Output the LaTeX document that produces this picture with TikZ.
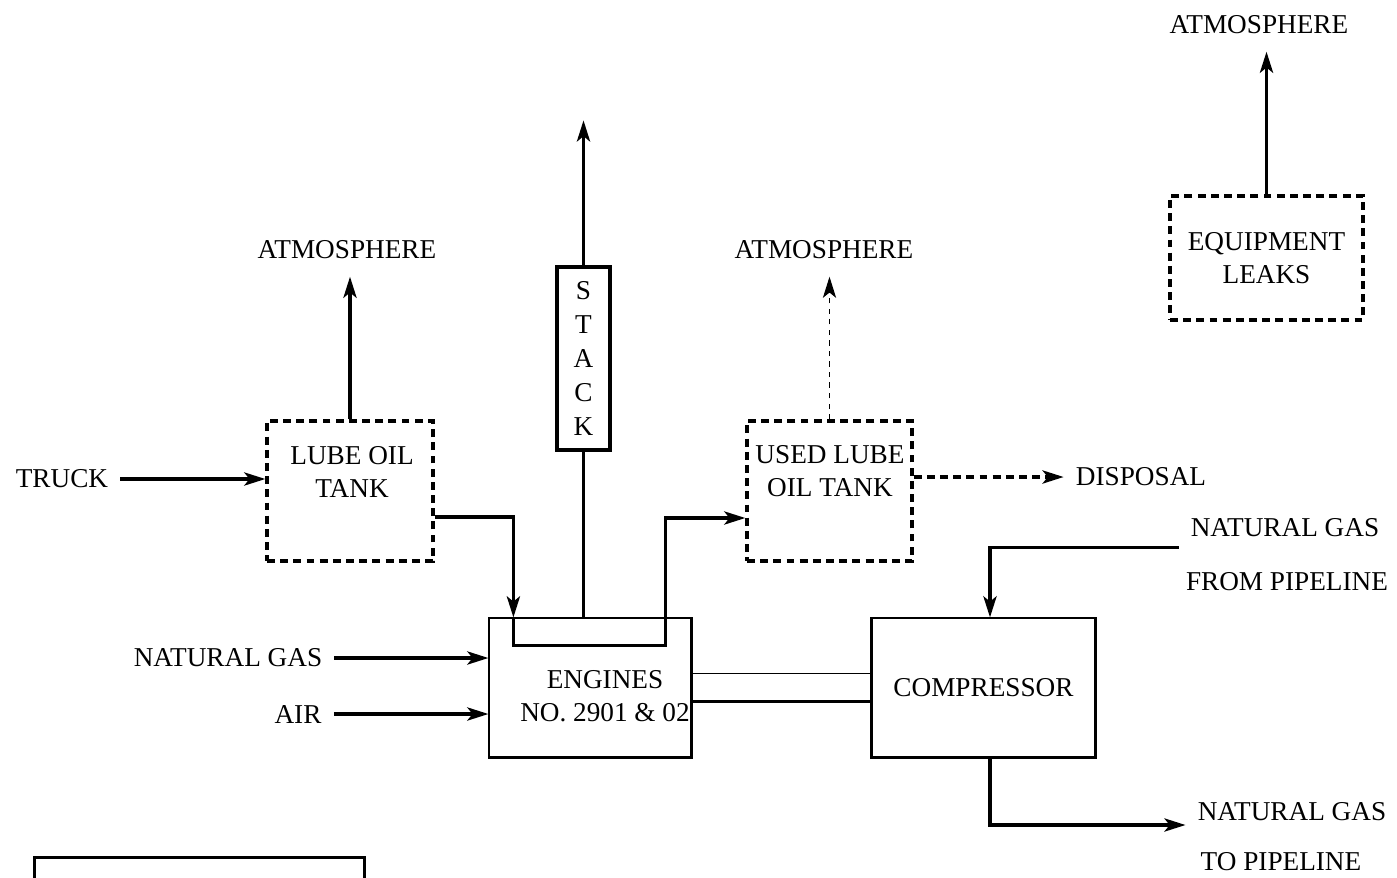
\documentclass[tikz,border=0pt]{standalone}
\usepackage{fontspec}
\setmainfont{Liberation Serif}
\usetikzlibrary{arrows,arrows.meta,positioning,shapes}

\newcommand{\flowfont}{\fontsize{15.5}{18.8}\selectfont}

\begin{document}
\begin{tikzpicture}[->,>={Stealth[length=12pt,width=7.5pt,inset=3pt]},x=0.02cm,y=-0.02cm,line width=1.9pt,
                    font=\flowfont,node distance=1cm,
                    tank/.style={draw,dash pattern=on 4.5pt off 3pt,line width=1.9pt},
                    vessel/.style={draw,line width=0.7pt},
                    lbl/.style={inner sep=2pt,outer xsep=5pt,outer ysep=8pt,align=center}]

        \useasboundingbox (0,0) rectangle (1397,877);

        % units
        \node[tank,minimum width=3.32cm,minimum height=2.8cm] (lube) at (350,491) {};
        \node[tank,minimum width=3.3cm,minimum height=2.8cm] (usedlube) at (829.5,491) {};
        \node[tank,minimum width=3.86cm,minimum height=2.48cm,align=center] (leaks) at (1266.5,258) {EQUIPMENT\\LEAKS};
        \node[draw,minimum width=1.06cm,minimum height=3.66cm,align=center,
              font=\fontsize{15.5}{19.3}\selectfont] (stack) at (583.5,358.5) {S\\T\\A\\C\\K};
        \node[vessel,minimum width=4.04cm,minimum height=2.78cm] (engine) at (590,687.5) {};
        \node[vessel,minimum width=4.46cm,minimum height=2.78cm] (comp) at (983.5,687.5) {COMPRESSOR};
        \node[draw,minimum width=6.6cm,minimum height=2cm,anchor=north west] (legend) at (33,856) {};

        \node[lbl] (lubetxt) at (352,472) {LUBE OIL\\TANK};
        \node[lbl] (usedtxt) at (830,471) {USED LUBE\\OIL TANK};
        \node[lbl] (enginetxt) at (605,696) {ENGINES\\NO. 2901 \& 02};

        % streams
        \node[lbl] (atmL) at (347,250) {ATMOSPHERE};
        \node[lbl] (atmM) at (824,250) {ATMOSPHERE};
        \node[lbl] (atmR) at (1259,25) {ATMOSPHERE};
        \node[lbl] (truck) at (62,479) {TRUCK};
        \node[lbl] (disposal) at (1141,477) {DISPOSAL};
        \node[lbl] (gasin) at (228,658) {NATURAL GAS};
        \node[lbl] (air) at (298,714) {AIR};
        \node[lbl] (gasfrom1) at (1285,528) {NATURAL GAS};
        \node[lbl] (gasfrom2) at (1287,582) {FROM PIPELINE};
        \node[lbl] (gasto1) at (1292,812) {NATURAL GAS};
        \node[lbl] (gasto2) at (1281,862) {TO PIPELINE};
        \coordinate[above=2.9cm of stack.north] (plume);

        % heavy edges
        \draw[-] (engine.north east) -- (engine.south east) -- (engine.south west);
        \draw[-] (comp.north west) -- (comp.south west) -- (comp.south east) -- (comp.north east);

        \draw (truck) -- (truck -| lube.west);
        \draw (lube.north) -- (lube.north |- atmL.south);
        \draw ([yshift=-5.2mm]lube.east) -| ([xshift=5mm]engine.north west);
        \draw ([xshift=5mm]engine.north west) -- ++(0,28)
              -| ([xshift=-5.2mm]engine.north east) |- ([yshift=-5.4mm]usedlube.west);
        \draw[-] (stack.south) -- (stack.south |- engine.north);
        \draw (stack.north) -- (plume);
        \draw[line width=0.7pt,dash pattern=on 3pt off 3pt] (usedlube.north) -- (usedlube.north |- atmM.south);
        \draw[dash pattern=on 4.5pt off 3pt] (usedlube.east |- disposal) -- (disposal);
        \draw (gasin) -- (gasin -| engine.west);
        \draw (air) -- (air -| engine.west);
        \draw[-,line width=0.7pt] ([yshift=2.8mm]engine.east) -- ([yshift=2.8mm]comp.west);
        \draw[-] ([yshift=-2.8mm]engine.east) -- ([yshift=-2.8mm]comp.west);
        \draw ([yshift=1.5mm]gasfrom1.south west) -| ([xshift=1.3mm]comp.north);
        \draw ([xshift=1.3mm]comp.south) |- ([yshift=-2.6mm]gasto1.west);
        \draw (leaks.north) -- (leaks.north |- atmR.south);
      \end{tikzpicture}
\end{document}
